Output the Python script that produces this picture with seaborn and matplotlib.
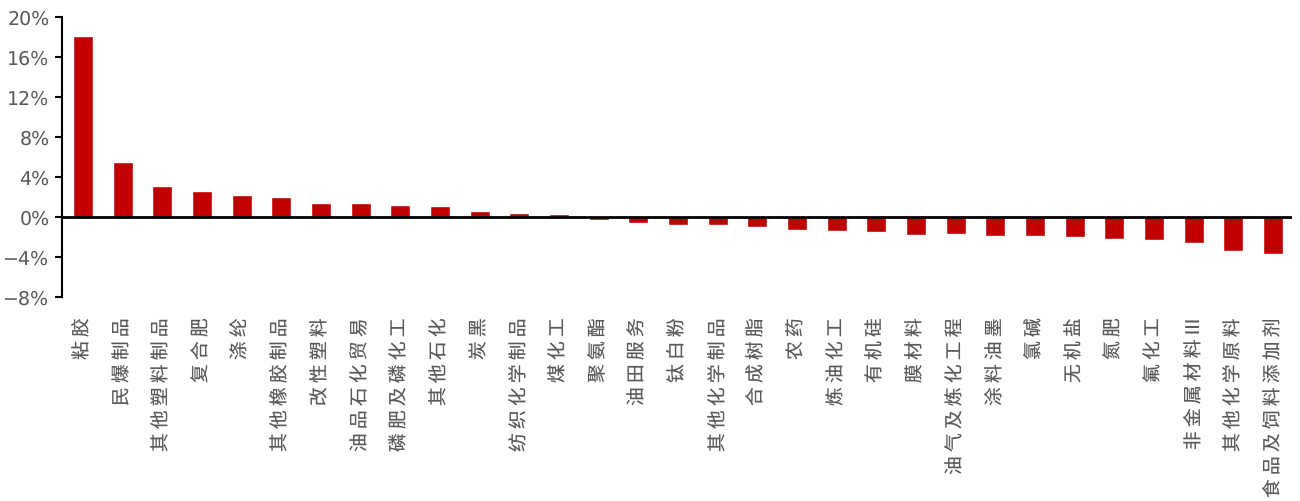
import pandas as pd
import matplotlib
matplotlib.use('Agg')
import matplotlib.pyplot as plt
import matplotlib.ticker as mticker
import seaborn as sns

# Industry names and percentage changes
categories = ['粘胶', '民爆制品', '其他塑料制品', '复合肥', '涤纶', '其他橡胶制品',
              '改性塑料', '油品石化贸易', '磷肥及磷化工', '其他石化', '炭黑',
              '纺织化学制品', '煤化工', '聚氨酯', '油田服务', '钛白粉', '其他化学制品',
              '合成树脂', '农药', '炼油化工', '有机硅', '膜材料', '油气及炼化工程',
              '涂料油墨', '氯碱', '无机盐', '氮肥', '氟化工', '非金属材料III',
              '其他化学原料', '食品及饲料添加剂']
values = [18.1, 5.5, 3.1, 2.65, 2.2, 2.04, 1.37, 1.37, 1.17, 1.1, 0.6,
          0.44, 0.33, -0.25, -0.6, -0.75, -0.8, -1.0, -1.3, -1.4, -1.5,
          -1.75, -1.7, -1.9, -1.9, -2.0, -2.2, -2.3, -2.6, -3.4, -3.7]
yticks = [-8, -4, 0, 4, 8, 12, 16, 20]


def spaced(name):
    # put a little space between characters, keep roman numerals together
    parts = []
    for ch in name.replace('III', '\0'):
        parts.append('III' if ch == '\0' else ch)
    return ' '.join(parts)


df = pd.DataFrame({'cat': categories, 'val': values})

sns.set_style('white')
plt.rcParams['font.family'] = ['Noto Sans CJK SC', 'DejaVu Sans']
plt.rcParams['axes.unicode_minus'] = True
plt.rcParams['text.hinting'] = 'no_hinting'
plt.rcParams['text.hinting_factor'] = 1

fig = plt.figure(figsize=(13, 5.02), dpi=100)
ax = fig.add_axes([62 / 1300, 1 - 298 / 502, 1230 / 1300, 280 / 502])

sns.barplot(data=df, x='cat', y='val', color='#C00000', width=0.5,
            saturation=1, ax=ax)
ax.axhline(0, color='black', lw=2, zorder=3)

ax.set_ylim(-8, 20)
ax.set_xlim(-0.53, 30.48)
ax.set_yticks(yticks)
ax.yaxis.set_major_formatter(mticker.FuncFormatter(lambda v, p: f'{v:.0f}%'.replace('-', '−')))
ax.tick_params(axis='y', direction='out', length=5, width=1.5, color='black',
               labelsize=13.5, labelcolor='#595959', pad=4, left=True)
for t in ax.get_yticklabels():
    t.set_family(['DejaVu Sans'])

ax.set_xticks(range(len(categories)))
ax.set_xticklabels([spaced(c) for c in categories], rotation=90,
                   ha='center', va='top', fontsize=13.5, color='#595959')
ax.tick_params(axis='x', length=0, pad=14)

ax.set_xlabel('')
ax.set_ylabel('')
for s in ['top', 'right', 'bottom']:
    ax.spines[s].set_visible(False)
ax.spines['left'].set_color('black')
ax.spines['left'].set_linewidth(1.5)

fig.savefig('out.png', dpi=100)
